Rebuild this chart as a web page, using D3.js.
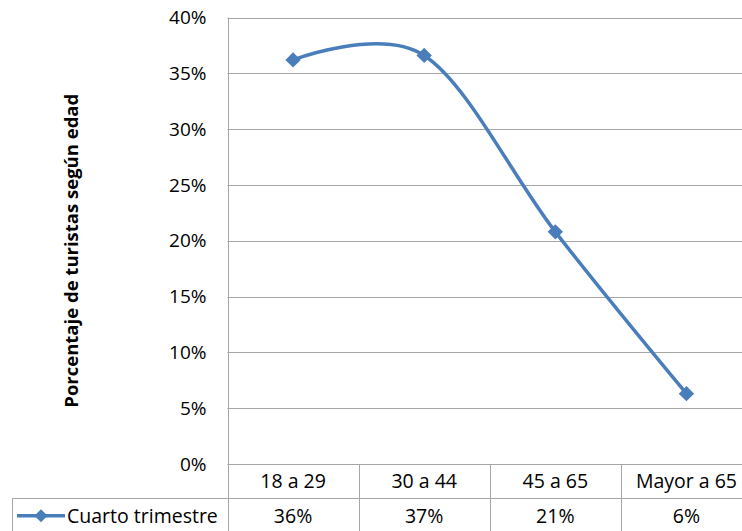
<!DOCTYPE html>
<html>
<head>
<meta charset="utf-8">
<script src="https://cdn.jsdelivr.net/npm/d3@7"></script>
<style>
  html, body { margin: 0; padding: 0; background: #fff; }
  svg { display: block; font-family: "Open Sans", sans-serif; }
</style>
</head>
<body>
<svg id="chart" width="742" height="531"></svg>
<script>
// Age groups and the share of tourists in each (fourth quarter)
const categories = ["18 a 29", "30 a 44", "45 a 65", "Mayor a 65"];
const values = [0.362, 0.366, 0.208, 0.063];
const seriesName = "Cuarto trimestre";
const yTicks = [0, 0.05, 0.10, 0.15, 0.20, 0.25, 0.30, 0.35, 0.40];
const yTitle = "Porcentaje de turistas según edad";

const svg = d3.select("#chart");
const W = 742, H = 531;
const plot = { left: 227.5, right: 752, top: 17.5, bottom: 464 };
const tableRow = 498.5;
const legendLeft = 12.5;
const gridColor = "#a6a6a6";
const lineColor = "#4a7ebb";
const font = "'Open Sans', sans-serif";
const pct = d3.format(".0%");

const x = d3.scaleBand().domain(categories).range([plot.left, plot.right]);
const y = d3.scaleLinear().domain([0, 0.40]).range([plot.bottom, plot.top]);

// Horizontal gridlines
svg.append("g")
  .selectAll("line")
  .data(yTicks)
  .join("line")
  .attr("x1", plot.left).attr("x2", W)
  .attr("y1", d => Math.round(y(d)) + 0.5).attr("y2", d => Math.round(y(d)) + 0.5)
  .attr("stroke", gridColor).attr("stroke-width", 1);

// Y axis tick labels
const yAxis = d3.axisLeft(y).tickValues(yTicks).tickFormat(pct).tickSize(0).tickPadding(21);
const ya = svg.append("g").attr("transform", `translate(${plot.left},0)`).call(yAxis);
ya.select(".domain").remove();
ya.selectAll("text")
  .attr("font-family", font)
  .attr("font-size", 19).attr("fill", "#000");

// Y axis title
svg.append("text")
  .attr("transform", `translate(78,${(plot.top + plot.bottom) / 2 + 10}) rotate(-90)`)
  .attr("text-anchor", "middle")
  .attr("font-size", 18.5).attr("font-weight", "bold").attr("fill", "#000")
  .text(yTitle);

// Data table borders: vertical separators, row lines and legend cell
const tbl = svg.append("g").attr("stroke", gridColor).attr("stroke-width", 1);
const bounds = categories.map(c => x(c));
tbl.selectAll("line.v")
  .data(bounds)
  .join("line")
  .attr("class", "v")
  .attr("x1", d => Math.round(d) + 0.5).attr("x2", d => Math.round(d) + 0.5)
  .attr("y1", (d, i) => i === 0 ? plot.top : plot.bottom).attr("y2", H);
tbl.append("line")
  .attr("x1", legendLeft).attr("x2", W)
  .attr("y1", tableRow).attr("y2", tableRow);
tbl.append("line")
  .attr("x1", legendLeft).attr("x2", legendLeft)
  .attr("y1", tableRow).attr("y2", H);

// Category labels in the table header row
svg.append("g")
  .selectAll("text")
  .data(categories)
  .join("text")
  .attr("x", d => x(d) + x.bandwidth() / 2)
  .attr("y", (plot.bottom + tableRow) / 2 + 7)
  .attr("text-anchor", "middle")
  .attr("font-size", 19.5).attr("fill", "#000")
  .text(d => d);

// Value row
svg.append("g")
  .selectAll("text")
  .data(values)
  .join("text")
  .attr("x", (d, i) => x(categories[i]) + x.bandwidth() / 2)
  .attr("y", (tableRow + H) / 2 + 8)
  .attr("text-anchor", "middle")
  .attr("font-size", 19.5).attr("fill", "#000")
  .text(d => pct(d));

// Legend key in the table
const legY = (tableRow + H) / 2 + 1;
const diamond = d3.symbol().type(d3.symbolDiamond2).size(110);
svg.append("line")
  .attr("x1", 17).attr("x2", 65)
  .attr("y1", legY).attr("y2", legY)
  .attr("stroke", lineColor).attr("stroke-width", 3.5);
svg.append("path")
  .attr("d", diamond())
  .attr("transform", `translate(41,${legY})`)
  .attr("fill", lineColor);
svg.append("text")
  .attr("x", 67).attr("y", legY + 7)
  .attr("font-size", 19.5).attr("fill", "#000")
  .text(seriesName);

// Smoothed series line
const pts = values.map((v, i) => [x(categories[i]) + x.bandwidth() / 2, y(v)]);
svg.append("path")
  .datum(pts)
  .attr("d", d3.line().curve(d3.curveCatmullRom.alpha(0)))
  .attr("fill", "none")
  .attr("stroke", lineColor).attr("stroke-width", 3.5)
  .attr("stroke-linecap", "round");

// Diamond markers
svg.append("g")
  .selectAll("path")
  .data(pts)
  .join("path")
  .attr("d", d3.symbol().type(d3.symbolDiamond2).size(150)())
  .attr("transform", d => `translate(${d[0]},${d[1]})`)
  .attr("fill", lineColor);
</script>
</body>
</html>
